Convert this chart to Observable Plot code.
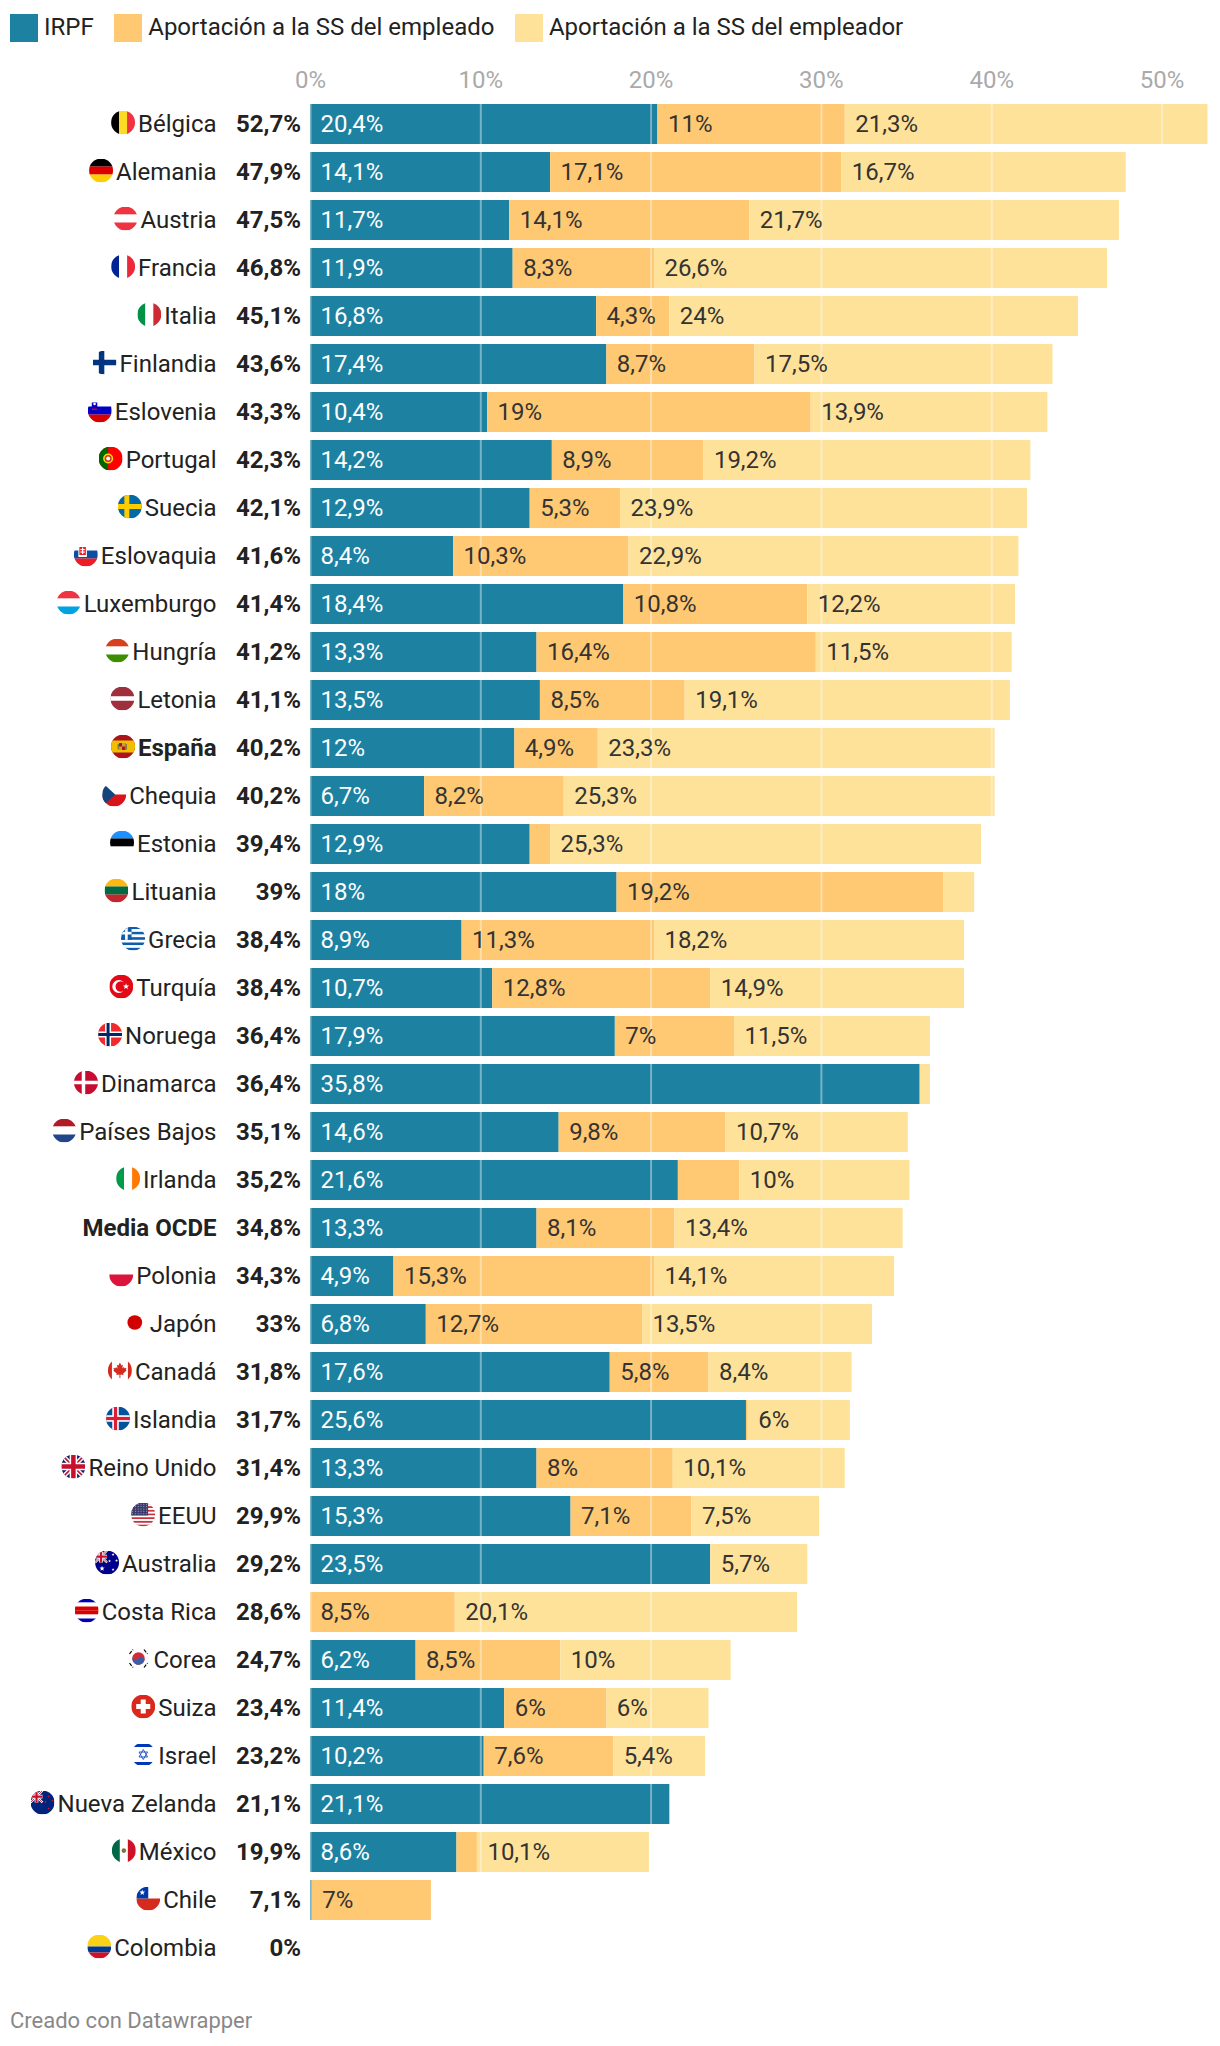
<!DOCTYPE html>
<html lang="es">
<head>
<meta charset="utf-8">
<script src="https://cdn.jsdelivr.net/npm/d3@7"></script>
<script src="https://cdn.jsdelivr.net/npm/@observablehq/plot@0.6"></script>
<style>
html,body{margin:0;padding:0;background:#fff;font-family:Roboto,sans-serif;overflow:hidden}
#legend{height:56px;box-sizing:border-box;padding:14px 0 0 10px;display:flex;font-size:24px;line-height:27px;color:#222}
#legend .k{width:28px;height:28px;margin-right:6px;flex:none}
#legend .t{margin-right:20.5px;white-space:nowrap}
#chart svg{display:block}
#caption{position:absolute;left:10px;top:2008px;font-size:22px;line-height:26px;color:#888}
</style>
</head>
<body>
<div id="legend"></div>
<div id="chart"></div>
<div id="caption">Creado con Datawrapper</div>
<script>
const countries = ["Bélgica","Alemania","Austria","Francia","Italia","Finlandia","Eslovenia","Portugal","Suecia","Eslovaquia","Luxemburgo","Hungría","Letonia","España","Chequia","Estonia","Lituania","Grecia","Turquía","Noruega","Dinamarca","Países Bajos","Irlanda","Media OCDE","Polonia","Japón","Canadá","Islandia","Reino Unido","EEUU","Australia","Costa Rica","Corea","Suiza","Israel","Nueva Zelanda","México","Chile","Colombia"];
const totals = [52.7,47.9,47.5,46.8,45.1,43.6,43.3,42.3,42.1,41.6,41.4,41.2,41.1,40.2,40.2,39.4,39,38.4,38.4,36.4,36.4,35.1,35.2,34.8,34.3,33,31.8,31.7,31.4,29.9,29.2,28.6,24.7,23.4,23.2,21.1,19.9,7.1,0];
const irpf = [20.4,14.1,11.7,11.9,16.8,17.4,10.4,14.2,12.9,8.4,18.4,13.3,13.5,12,6.7,12.9,18,8.9,10.7,17.9,35.8,14.6,21.6,13.3,4.9,6.8,17.6,25.6,13.3,15.3,23.5,0,6.2,11.4,10.2,21.1,8.6,0.1,0];
const empleado = [11,17.1,14.1,8.3,4.3,8.7,19,8.9,5.3,10.3,10.8,16.4,8.5,4.9,8.2,1.2,19.2,11.3,12.8,7,0,9.8,3.6,8.1,15.3,12.7,5.8,0.1,8,7.1,0,8.5,8.5,6,7.6,0,1.2,7,0];
const empleador = [21.3,16.7,21.7,26.6,24,17.5,13.9,19.2,23.9,22.9,12.2,11.5,19.1,23.3,25.3,25.3,1.8,18.2,14.9,11.5,0.6,10.7,10,13.4,14.1,13.5,8.4,6,10.1,7.5,5.7,20.1,10,6,5.4,0,10.1,0,0];
const seriesNames = ["IRPF","Aportación a la SS del empleado","Aportación a la SS del empleador"];
const seriesColors = ["#1d81a2","#ffc872","#fee29a"];
const tickValues = [0,10,20,30,40,50];
const boldRows = ["España","Media OCDE"];

/* flag artwork */
const R=(x,y,w,h,f)=>`<rect x="${x}" y="${y}" width="${w}" height="${h}" fill="${f}"/>`;
const H=(...c)=>c.map((f,i)=>R(0,48*i/c.length,48,48/c.length+.2,f)).join("");
const V=(...c)=>c.map((f,i)=>R(48*i/c.length,0,48/c.length+.2,48,f)).join("");
const C=(x,y,r,f)=>`<circle cx="${x}" cy="${y}" r="${r}" fill="${f}"/>`;
const X=(cx,cy,t,f)=>R(0,cy-t/2,48,t,f)+R(cx-t/2,0,t,48,f);
const star=(x,y,r,f)=>{let p=[];for(let i=0;i<10;i++){const a=-Math.PI/2+i*Math.PI/5,q=i%2?r*.42:r;p.push((x+q*Math.cos(a)).toFixed(2)+","+(y+q*Math.sin(a)).toFixed(2));}return `<polygon points="${p.join(" ")}" fill="${f}"/>`;};
const jack=(s)=>`<g transform="scale(${s})"><rect width="48" height="48" fill="#012169"/><path d="M0 0L48 48M48 0L0 48" stroke="#fff" stroke-width="9"/><path d="M0 0L48 48M48 0L0 48" stroke="#c8102e" stroke-width="3.5"/><path d="M24 0V48M0 24H48" stroke="#fff" stroke-width="15"/><path d="M24 0V48M0 24H48" stroke="#c8102e" stroke-width="9"/></g>`;
const flagArt = {
"Bélgica":V("#000","#fdda24","#ef3340"),
"Alemania":H("#000","#dd0000","#ffce00"),
"Austria":H("#ef3340","#fff","#ef3340"),
"Francia":V("#002395","#fff","#ed2939"),
"Italia":V("#009246","#fff","#ce2b37"),
"Finlandia":R(0,0,48,48,"#fff")+X(18,24,11,"#003580"),
"Eslovenia":H("#fff","#0000c8","#d50000")+R(8,8,11,15,"#0000c8")+C(13.5,11,2.6,"#fff")+R(8,20,11,3,"#d50000"),
"Portugal":R(0,0,48,48,"#ff0000")+R(0,0,19,48,"#006600")+C(19,24,10,"#ffdd00")+C(19,24,7,"#d52b1e")+C(19,24,4,"#fff"),
"Suecia":R(0,0,48,48,"#006aa7")+X(18,24,10,"#fecc00"),
"Eslovaquia":H("#fff","#0b4ea2","#ee1c25")+R(9,7,17,22,"#fff")+R(11,9,13,16,"#ee1c25")+R(16.3,10,2.4,13,"#fff")+R(13,13,9,2.2,"#fff")+R(13,18,9,2.2,"#fff"),
"Luxemburgo":H("#ef3340","#fff","#00a3e0"),
"Hungría":H("#d7401c","#fff","#3c8d00"),
"Letonia":R(0,0,48,48,"#9e2f3c")+R(0,19.5,48,9,"#fff"),
"España":R(0,0,48,48,"#aa151b")+R(0,12,48,24,"#f1bf00")+R(16,17,13,14,"#ad1519")+R(22,17,7,7,"#c8a23c")+R(16,24,6,7,"#c8a23c")+R(13,19,3,11,"#8a7a4a")+R(29,19,3,11,"#8a7a4a"),
"Chequia":H("#fff","#d7141a")+`<path d="M0 0L26 24L0 48Z" fill="#11457e"/>`,
"Estonia":H("#1e90ff","#000","#fff"),
"Lituania":H("#fdb913","#006a44","#c1272d"),
"Grecia":H("#0d5eaf","#fff","#0d5eaf","#fff","#0d5eaf","#fff","#0d5eaf","#fff","#0d5eaf")+R(0,0,21,26.7,"#0d5eaf")+R(0,10.7,21,5.3,"#fff")+R(8,0,5.3,26.7,"#fff"),
"Turquía":R(0,0,48,48,"#e30a17")+C(19,24,13,"#fff")+C(23,24,10.5,"#e30a17")+star(33.5,24,6.5,"#fff"),
"Noruega":R(0,0,48,48,"#ef2b2d")+X(20,24,12,"#fff")+X(20,24,6,"#002868"),
"Dinamarca":R(0,0,48,48,"#c60c30")+X(19,24,7,"#fff"),
"Países Bajos":H("#ae1c28","#fff","#21468b"),
"Irlanda":V("#009b48","#fff","#ff7900"),
"Polonia":H("#fff","#dc143c"),
"Japón":R(0,0,48,48,"#fff")+C(24,24,14.7,"#d30000"),
"Canadá":R(0,0,48,48,"#fff")+R(0,0,8,48,"#d52b1e")+R(40,0,8,48,"#d52b1e")+`<path d="M24 8L27 14L30 12.5L28.8 20L32 16.8L33 19.5L37 19L35.8 23L37.5 24L30.5 30L31 33L25 32L25 39H23L23 32L17 33L17.5 30L10.5 24L12.2 23L11 19L15 19.5L16 16.8L19.2 20L18 12.5L21 14Z" fill="#d52b1e"/>`,
"Islandia":R(0,0,48,48,"#02529c")+X(19,24,13,"#fff")+X(19,24,6.5,"#dc1e35"),
"Reino Unido":jack(1),
"EEUU":H("#c8313e","#fff","#c8313e","#fff","#c8313e","#fff","#c8313e","#fff","#c8313e","#fff","#c8313e","#fff","#c8313e")+R(0,0,34,26,"#3c3b6e")+Array.from({length:30},(_,i)=>C(3+(i%6)*5.6,3.5+Math.floor(i/6)*4.7,1,"#b9b9d6")).join(""),
"Australia":R(0,0,48,48,"#00008b")+jack(.5)+star(14,36,5.5,"#fff")+star(36,8,3,"#fff")+star(43,20,3,"#fff")+star(29,21,3,"#fff")+star(36,38,3,"#fff"),
"Costa Rica":H("#0000b4","#fff","#d90000","#d90000","#fff","#0000b4"),
"Corea":R(0,0,48,48,"#fff")+C(24,24,12.5,"#cd2e3a")+`<path d="M11.5 24A12.5 12.5 0 0 0 36.5 24A6.25 6.25 0 0 0 24 24A6.25 6.25 0 0 1 11.5 24Z" fill="#3b5ea8" transform="rotate(30 24 24)"/>`+`<g stroke="#000" stroke-width="2.4" stroke-dasharray="7 3"><path d="M6 15L13 6"/><path d="M35 6L42 15"/><path d="M6 33L13 42"/><path d="M35 42L42 33"/></g>`,
"Suiza":R(0,0,48,48,"#da291c")+R(19,10,10,28,"#fff")+R(10,19,28,10,"#fff"),
"Israel":R(0,0,48,48,"#fff")+R(0,3,48,6,"#0038b8")+R(0,39,48,6,"#0038b8")+`<g fill="none" stroke="#0038b8" stroke-width="1.6"><path d="M24 14L32.5 29H15.5Z"/><path d="M24 34L32.5 19H15.5Z"/></g>`,
"Nueva Zelanda":R(0,0,48,48,"#00247d")+jack(.5)+star(36,12,2.6,"#cc142b")+star(44,20,2.6,"#cc142b")+star(30,23,2.6,"#cc142b")+star(36,36,2.6,"#cc142b"),
"México":V("#006847","#fff","#ce1126")+C(24,24,4.5,"#8c6d3f")+C(24,26,2.6,"#4c8c4a"),
"Chile":R(0,0,48,24,"#fff")+R(0,24,48,24,"#d52b1e")+R(0,0,24,24,"#0039a6")+star(12,12,6,"#fff"),
"Colombia":R(0,0,48,24,"#fcd116")+R(0,24,48,12,"#003893")+R(0,36,48,12,"#ce1126")
};
const flagUrl=a=>"data:image/svg+xml;charset=utf-8,"+encodeURIComponent(`<svg xmlns="http://www.w3.org/2000/svg" viewBox="0 0 48 48" width="48" height="48">${a}</svg>`);

const pct = v => String(v).replace(".",",")+"%";
const FONT = "Roboto, sans-serif", FS = 24;

/* tables for the marks */
const rows = countries.map((c,i)=>({country:c,total:totals[i]}));
const segs = [];
countries.forEach((c,i)=>{
  let s=0;
  [irpf[i],empleado[i],empleador[i]].forEach((v,k)=>{
    segs.push({country:c,series:seriesNames[k],k,value:v,start:s,end:s+v});
    s+=v;
  });
});
const ctx=document.createElement("canvas").getContext("2d");
const isBold=c=>boldRows.includes(c);
const nameWidth=c=>{ctx.font=`${isBold(c)?700:400} ${FS}px Roboto`;return ctx.measureText(c).width;};

/* legend */
d3.select("#legend").selectAll("span.g").data(seriesNames).join("span").attr("class","g").style("display","contents")
  .html((d,i)=>`<span class="k" style="background:${seriesColors[i]}"></span><span class="t">${d}</span>`);

const LABEL_EDGE=-94, TOTAL_EDGE=-9.5;
const flagMarks = rows.filter(r=>flagArt[r.country]).map(r=>
  Plot.image([r],{x:()=>0,y:"country",src:d=>flagUrl(flagArt[d.country]),r:12,dx:LABEL_EDGE-nameWidth(r.country)-3-12,dy:-2})
);
const nameOpts={x:()=>0,y:"country",text:"country",textAnchor:"end",dx:LABEL_EDGE,fontSize:FS,fill:"#222"};

const chart = Plot.plot({
  width:1220,height:1934,marginTop:40,marginBottom:14,marginLeft:310,marginRight:10,
  style:{fontFamily:FONT,background:"transparent"},
  x:{domain:[0,50],range:[310,1161.5],axis:null},
  y:{domain:countries,padding:8/48,round:false,axis:null},
  color:{domain:seriesNames,range:seriesColors},
  marks:[
    Plot.barX(segs.filter(d=>d.value>0),{x1:"start",x2:"end",y:"country",fill:"series"}),
    Plot.ruleX(tickValues,{stroke:"#fff",strokeOpacity:.4,strokeWidth:2}),
    Plot.axisX(tickValues,{anchor:"top",tickSize:0,tickPadding:9,tickFormat:d=>d+"%",fontSize:FS,fill:"#aaa",label:null}),
    Plot.text(segs.filter(d=>d.value>=4),{x:"start",y:"country",text:d=>pct(d.value),textAnchor:"start",dx:10,fontSize:FS,fill:d=>d.k===0?"#fff":"#333"}),
    Plot.text(rows.filter(d=>!isBold(d.country)),nameOpts),
    Plot.text(rows.filter(d=>isBold(d.country)),{...nameOpts,fontWeight:700}),
    Plot.text(rows,{x:()=>0,y:"country",text:d=>pct(d.total),textAnchor:"end",dx:TOTAL_EDGE,fontSize:FS,fontWeight:700,fill:"#222"}),
    ...flagMarks
  ]
});
document.getElementById("chart").appendChild(chart);
</script>
</body>
</html>
